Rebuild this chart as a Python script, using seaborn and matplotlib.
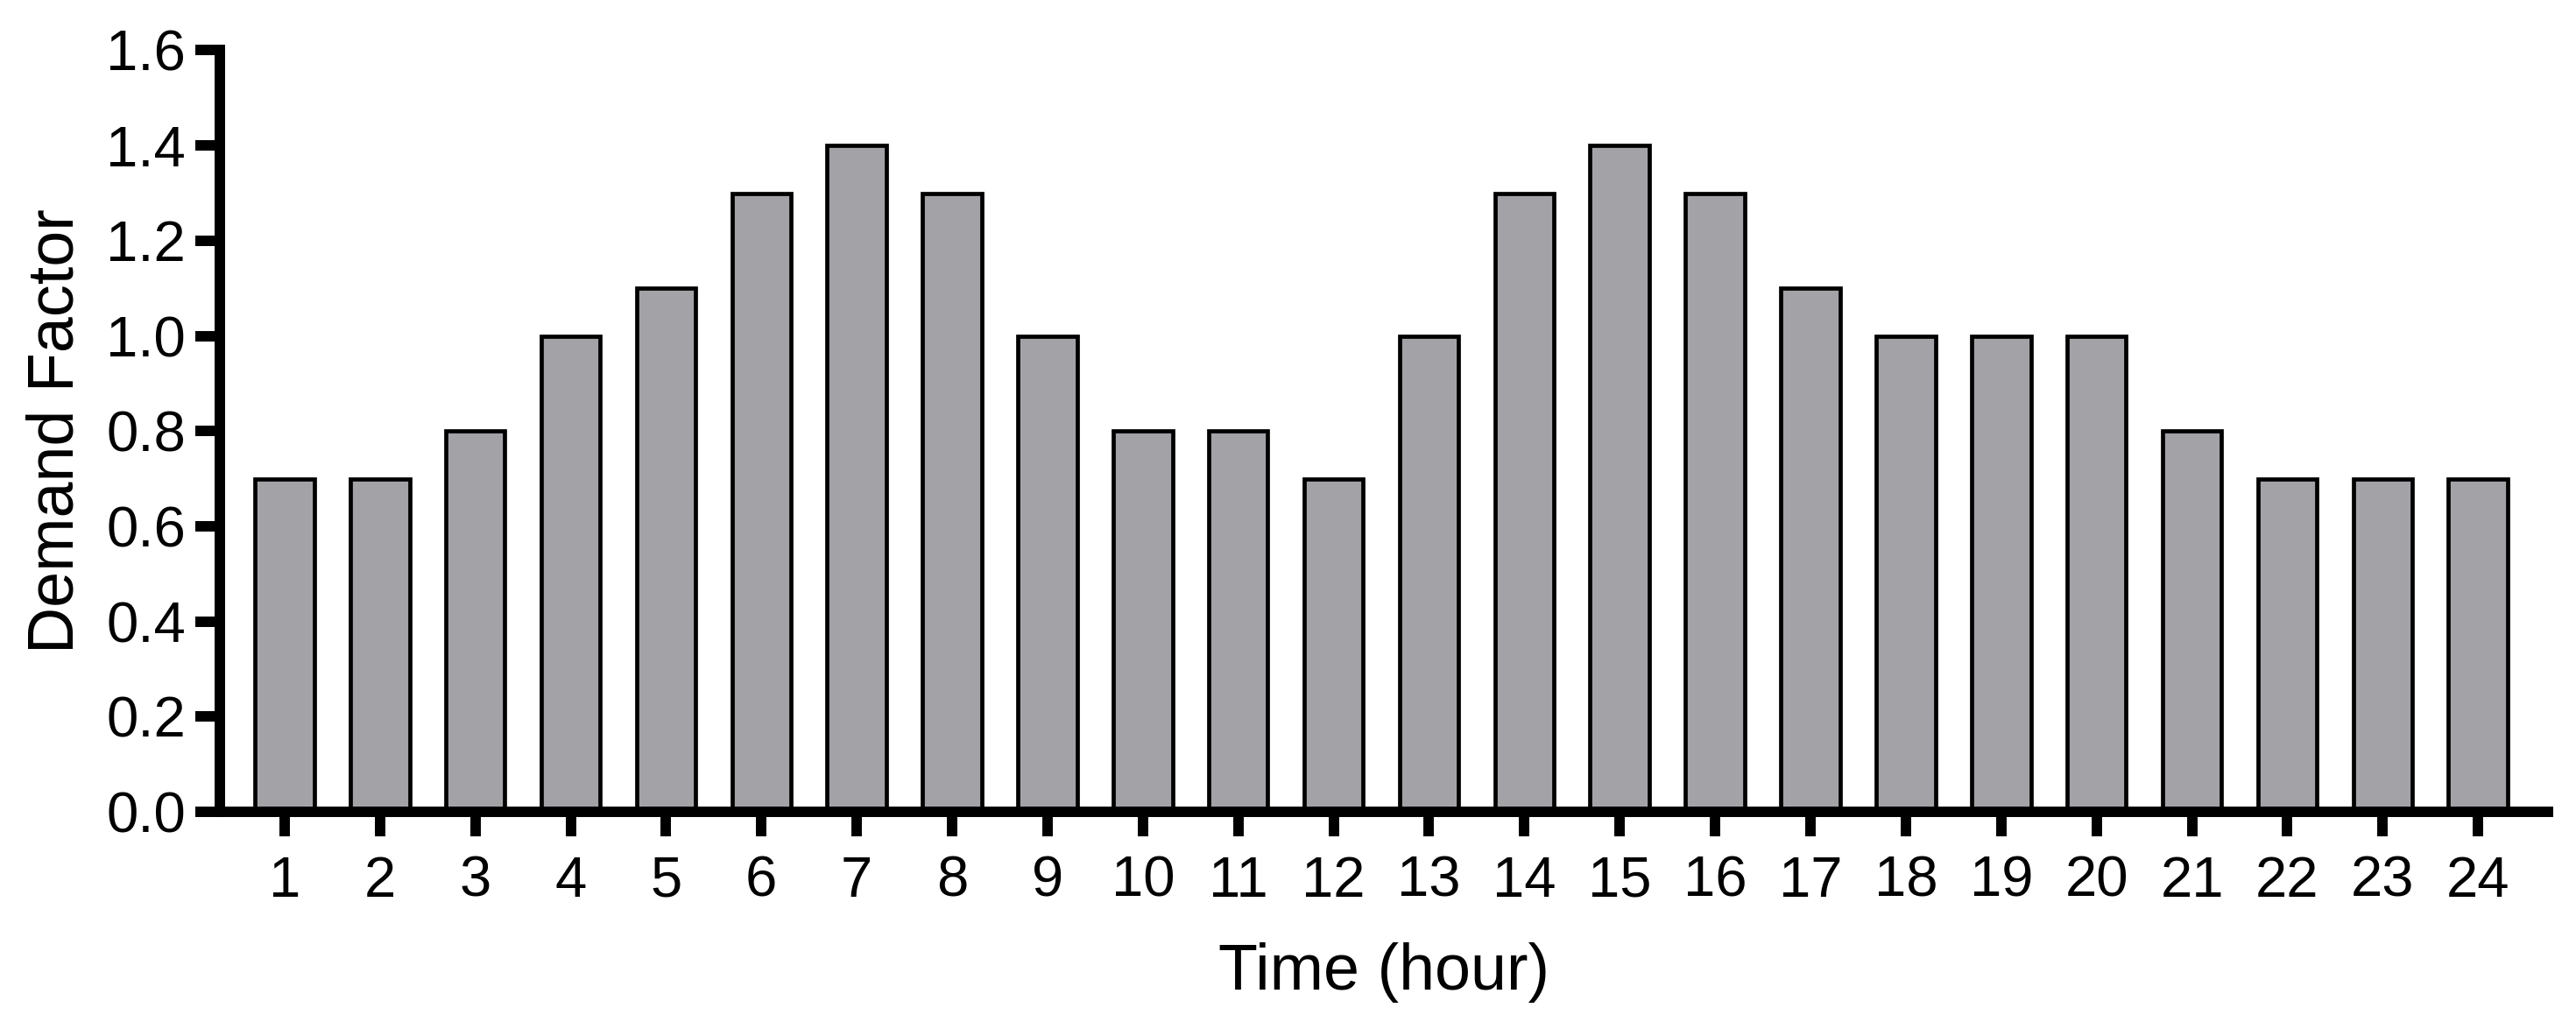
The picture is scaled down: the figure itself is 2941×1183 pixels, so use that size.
import matplotlib
matplotlib.use("Agg")
import matplotlib.pyplot as plt
import seaborn as sns
import pandas as pd

# Dados
HORAS = [str(h) for h in range(1, 25)]
FATOR_DEMANDA = [0.7, 0.7, 0.8, 1.0, 1.1, 1.3, 1.4, 1.3, 1.0, 0.8, 0.8, 0.7,
                 1.0, 1.3, 1.4, 1.3, 1.1, 1.0, 1.0, 1.0, 0.8, 0.7, 0.7, 0.7]
Y_TICKS = [0.0, 0.2, 0.4, 0.6, 0.8, 1.0, 1.2, 1.4, 1.6]

COR_BARRA = "#A3A2A7"

sns.set_theme(style="ticks")
plt.rcParams["font.family"] = ["Liberation Sans", "DejaVu Sans"]

df = pd.DataFrame({"hora": HORAS, "fator": FATOR_DEMANDA})

fig = plt.figure(figsize=(29.41, 11.83), dpi=100)
ax = fig.add_axes([0.0853, 0.2164, 0.9037, 0.735])

sns.barplot(data=df, x="hora", y="fator", order=HORAS, ax=ax,
            color=COR_BARRA, saturation=1, width=0.62,
            edgecolor="black", linewidth=3.4, errorbar=None)

ax.set_xlim(-0.68, 23.73)
ax.set_ylim(0, 1.6)
ax.set_yticks(Y_TICKS)
ax.set_yticklabels([f"{v:.1f}" for v in Y_TICKS])

for lado in ["top", "right"]:
    ax.spines[lado].set_visible(False)
for lado in ["left", "bottom"]:
    ax.spines[lado].set_linewidth(8.6)
    ax.spines[lado].set_color("black")
    ax.spines[lado].set_capstyle("projecting")

ax.tick_params(axis="both", length=20, width=8.6, color="black",
               labelsize=47, labelcolor="black")
ax.tick_params(axis="y", pad=8)
ax.tick_params(axis="x", pad=16)

ax.set_xlabel("Time (hour)", fontsize=53, labelpad=28, color="black")
ax.set_ylabel("Demand Factor", fontsize=53, labelpad=16, color="black")

fig.savefig("out.png", dpi=100, facecolor="white")
